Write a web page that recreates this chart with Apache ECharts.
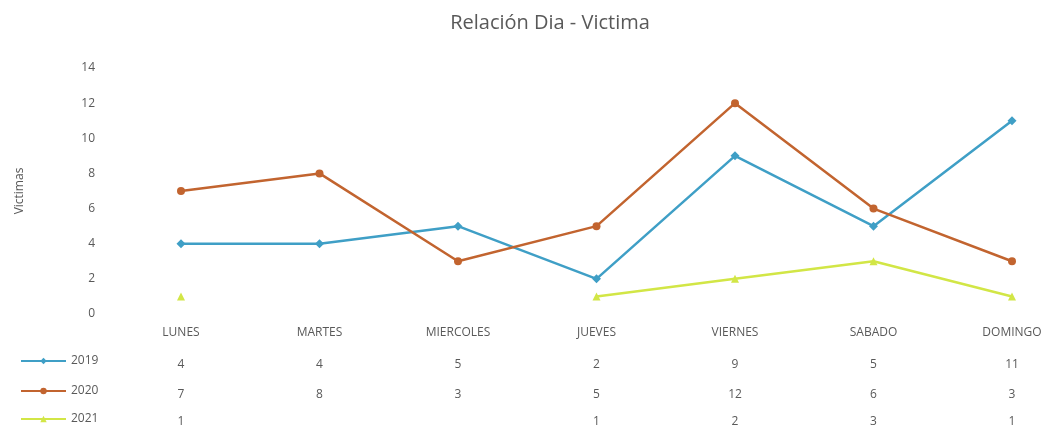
<!DOCTYPE html>
<html>
<head>
<meta charset="utf-8">
<script src="https://cdn.jsdelivr.net/npm/echarts@6/dist/echarts.min.js"></script>
<style>
html, body { margin: 0; padding: 0; background: #fff; }
#chart { width: 1058px; height: 428px; }
</style>
</head>
<body>
<div id="chart"></div>
<script>
var dias = ["LUNES", "MARTES", "MIERCOLES", "JUEVES", "VIERNES", "SABADO", "DOMINGO"];
var v2019 = [4, 4, 5, 2, 9, 5, 11];
var v2020 = [7, 8, 3, 5, 12, 6, 3];
var v2021 = [1, null, null, 1, 2, 3, 1];
var yTicks = [0, 2, 4, 6, 8, 10, 12, 14];

var colors = { "2019": "#3f9fc6", "2020": "#c2642f", "2021": "#d2e646" };
var txt = "#595959", fnt = "Open Sans";

// rows of the data table under the plot, one extra x axis each
function rowAxis(vals, off) {
    return {
        type: "category", gridIndex: 0, position: "bottom", offset: off,
        data: dias, boundaryGap: false,
        axisLine: {show: false}, axisTick: {show: false},
        axisLabel: {
            interval: 0, color: txt, fontFamily: fnt, fontSize: 12, margin: 10,
            formatter: function (v, i) { return vals[i] == null ? "" : String(vals[i]); }
        }
    };
}

function legendRow(name, top) {
    return {
        top: top, left: 15, data: [name], itemWidth: 45, itemHeight: 8, itemGap: 3,
        textStyle: {color: txt, fontFamily: fnt, fontSize: 12}
    };
}

function serie(name, vals, sym, size) {
    return {
        name: name, type: "line", data: vals, symbol: sym, symbolSize: size,
        showSymbol: true, connectNulls: false,
        lineStyle: {width: 2.5, color: colors[name]},
        itemStyle: {color: colors[name]}
    };
}

var chart = echarts.init(document.getElementById("chart"));
chart.setOption({
    animation: false,
    backgroundColor: "#fff",
    title: {
        text: "Relación Dia - Victima", left: 545, top: 8, textAlign: "center",
        textStyle: {color: txt, fontFamily: fnt, fontWeight: "normal", fontSize: 20}
    },
    legend: [legendRow("2019", 350), legendRow("2020", 380), legendRow("2021", 408)],
    grid: {left: 181, top: 68, right: 46, height: 246, containLabel: false},
    xAxis: [
        {
            type: "category", data: dias, boundaryGap: false,
            axisLine: {show: false}, axisTick: {show: false},
            axisLabel: {interval: 0, color: txt, fontFamily: fnt, fontSize: 12, margin: 13}
        },
        rowAxis(v2019, 35),
        rowAxis(v2020, 65),
        rowAxis(v2021, 92)
    ],
    yAxis: {
        type: "value", min: yTicks[0], max: yTicks[yTicks.length - 1], interval: 2,
        name: "Victimas", nameLocation: "middle", nameGap: 155, nameRotate: 90,
        nameTextStyle: {color: txt, fontFamily: fnt, fontSize: 12},
        axisLine: {show: false}, axisTick: {show: false},
        splitLine: {show: false},
        axisLabel: {color: txt, fontFamily: fnt, fontSize: 12, margin: 86}
    },
    series: [
        serie("2019", v2019, "diamond", 9),
        serie("2020", v2020, "circle", 8),
        serie("2021", v2021, "triangle", 8)
    ]
});
</script>
</body>
</html>
